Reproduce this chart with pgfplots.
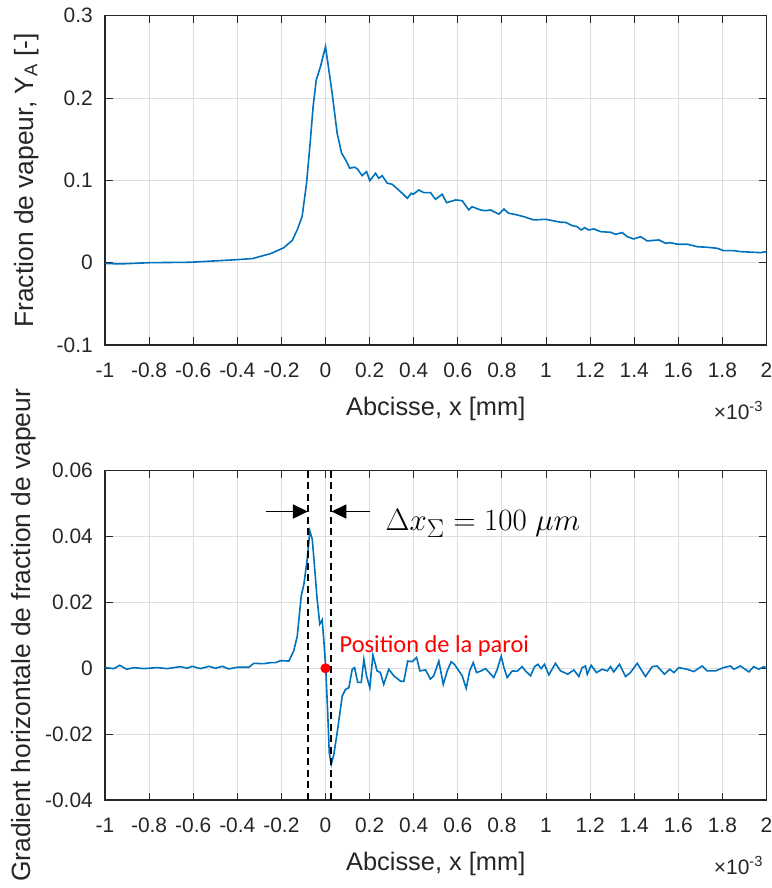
\documentclass[border=0pt]{standalone}
\usepackage{graphicx}
\usepackage{fontspec}
\setmainfont{Liberation Sans}
\newfontfamily\calibri{Carlito}
\usepackage{pgfplots}
\pgfplotsset{compat=1.18}
\usetikzlibrary{arrows.meta}
\definecolor{mblue}{rgb}{0,0.447,0.741}
\definecolor{axgray}{rgb}{0.15,0.15,0.15}
\definecolor{gridgray}{RGB}{222,222,222}

\pgfplotstableread{
x y
-1.000 -0.0010
-0.930 -0.0015
-0.794 0.0000
-0.612 0.0005
-0.399 0.0037
-0.331 0.0050
-0.249 0.0110
-0.190 0.0180
-0.151 0.0270
-0.128 0.0400
-0.106 0.0560
-0.086 0.0965
-0.071 0.1410
-0.056 0.1900
-0.042 0.2220
-0.023 0.2380
0.000 0.2625
0.010 0.2440
0.030 0.2060
0.053 0.1570
0.073 0.1330
0.091 0.1250
0.110 0.1147
0.132 0.1160
0.146 0.1135
0.166 0.1057
0.186 0.1106
0.201 0.0996
0.227 0.1086
0.242 0.1025
0.257 0.1057
0.280 0.0965
0.302 0.0953
0.340 0.0863
0.371 0.0782
0.389 0.0843
0.398 0.0831
0.423 0.0883
0.446 0.0851
0.476 0.0851
0.499 0.0770
0.529 0.0831
0.549 0.0729
0.590 0.0762
0.620 0.0753
0.650 0.0640
0.665 0.0680
0.703 0.0640
0.726 0.0632
0.748 0.0640
0.786 0.0590
0.809 0.0652
0.831 0.0600
0.869 0.0580
0.899 0.0559
0.945 0.0519
0.998 0.0527
1.066 0.0491
1.088 0.0490
1.119 0.0450
1.141 0.0437
1.160 0.0397
1.175 0.0425
1.194 0.0397
1.217 0.0410
1.247 0.0377
1.293 0.0369
1.315 0.0345
1.346 0.0365
1.368 0.0316
1.398 0.0288
1.429 0.0316
1.459 0.0264
1.512 0.0276
1.542 0.0236
1.565 0.0243
1.595 0.0224
1.640 0.0224
1.686 0.0194
1.731 0.0187
1.776 0.0175
1.806 0.0146
1.852 0.0146
1.882 0.0134
1.942 0.0126
1.973 0.0122
2.000 0.0134
}\toptable

\pgfplotstableread{
x y
-1.000 0.0002
-0.960 -0.0001
-0.933 0.0009
-0.902 -0.0003
-0.869 0.0002
-0.824 -0.0001
-0.763 0.0002
-0.718 -0.0001
-0.658 0.0005
-0.627 0.0000
-0.605 0.0006
-0.567 -0.0001
-0.529 0.0006
-0.499 0.0000
-0.468 0.0006
-0.439 -0.0002
-0.400 0.0003
-0.348 0.0003
-0.325 0.0015
-0.280 0.0014
-0.249 0.0017
-0.227 0.0017
-0.204 0.0023
-0.166 0.0022
-0.144 0.0053
-0.128 0.0098
-0.110 0.0220
-0.098 0.0255
-0.083 0.0331
-0.071 0.0417
-0.060 0.0392
-0.050 0.0311
-0.038 0.0210
-0.026 0.0134
-0.015 0.0147
-0.008 0.0088
0.001 0.0002
0.010 -0.0135
0.017 -0.0256
0.026 -0.0292
0.038 -0.0261
0.053 -0.0195
0.076 -0.0084
0.091 -0.0064
0.106 -0.0059
0.121 -0.0003
0.132 0.0002
0.146 -0.0043
0.162 -0.0043
0.174 0.0027
0.186 -0.0023
0.201 -0.0059
0.215 0.0040
0.234 -0.0008
0.249 -0.0013
0.264 -0.0049
0.287 -0.0003
0.310 -0.0023
0.340 -0.0039
0.355 -0.0040
0.373 0.0022
0.393 0.0020
0.413 0.0033
0.428 -0.0008
0.454 -0.0005
0.476 -0.0033
0.491 -0.0023
0.514 0.0022
0.534 -0.0049
0.552 -0.0008
0.570 0.0020
0.585 0.0012
0.605 -0.0008
0.620 -0.0023
0.638 -0.0061
0.654 -0.0008
0.670 0.0017
0.685 -0.0013
0.706 -0.0008
0.726 -0.0001
0.763 -0.0028
0.779 -0.0003
0.797 0.0037
0.809 0.0002
0.824 -0.0028
0.847 -0.0008
0.869 -0.0009
0.892 0.0005
0.907 -0.0008
0.930 -0.0023
0.948 0.0005
0.963 0.0012
0.978 -0.0001
0.993 0.0012
1.013 -0.0020
1.043 0.0015
1.066 -0.0008
1.099 -0.0018
1.126 -0.0005
1.149 -0.0025
1.164 0.0002
1.179 0.0007
1.187 -0.0018
1.205 0.0009
1.229 -0.0013
1.255 -0.0003
1.278 -0.0008
1.293 0.0005
1.307 -0.0011
1.333 0.0012
1.361 -0.0025
1.383 -0.0013
1.414 0.0015
1.451 -0.0025
1.482 0.0005
1.504 0.0007
1.537 -0.0018
1.561 -0.0003
1.580 -0.0013
1.602 0.0002
1.640 -0.0003
1.670 -0.0010
1.708 0.0007
1.731 -0.0008
1.769 -0.0008
1.804 0.0002
1.837 0.0007
1.852 -0.0003
1.882 0.0007
1.920 -0.0011
1.942 0.0005
1.965 -0.0003
1.988 0.0005
2.000 0.0000
}\bottable

\pgfplotsset{mystyle/.style={
  scale only axis, width=661.5bp, height=329.3bp,
  xmin=-1, xmax=2,
  xtick={-1,-0.8,-0.6,-0.4,-0.2,0,0.2,0.4,0.6,0.8,1,1.2,1.4,1.6,1.8,2},
  xticklabels={-1,-0.8,-0.6,-0.4,-0.2,0,0.2,0.4,0.6,0.8,1,1.2,1.4,1.6,1.8,2},
  scaled x ticks=false, scaled y ticks=false,
  grid=major, major grid style={gridgray, line width=0.9bp},
  tick align=inside, major tick length=7.5bp,
  every tick/.style={axgray, line width=1bp},
  axis line style={axgray, line width=1.1bp},
  tick label style={font=\fontsize{21}{21}\selectfont, text=axgray},
  xticklabel style={inner sep=0pt, anchor=north, yshift=-18bp},
  yticklabel style={inner sep=0pt, anchor=east, xshift=-12bp},
  xlabel style={font=\fontsize{25.5}{25.5}\selectfont, text=axgray, at={(axis description cs:0.5,-0.2128)}, anchor=base},
  ylabel style={font=\fontsize{26.5}{26.5}\selectfont, text=axgray},
  /pgf/number format/assume math mode=true,
  clip mode=individual,
}}

\begin{document}
\begin{tikzpicture}
\useasboundingbox (0,0) rectangle (772bp,888bp);

\begin{axis}[mystyle, at={(105bp,543bp)}, anchor=south west,
  ymin=-0.1, ymax=0.3,
  ytick={-0.1,0,0.1,0.2,0.3},
  yticklabels={-0.1,0,0.1,0.2,0.3},
  xlabel={Abcisse, x [mm]},
  ylabel={Fraction de vapeur, Y\textsubscript{A} [-]},
  ylabel style={at={(axis description cs:-0.1085,0.5)}, anchor=base},
]
\addplot[mblue, line width=1.6bp] table {\toptable};
\node[anchor=base east, font=\fontsize{21}{21}\selectfont, text=axgray] at (axis description cs:1,-0.225) {×10\textsuperscript{-3}};
\end{axis}

\begin{axis}[mystyle, at={(105bp,88bp)}, anchor=south west,
  ymin=-0.04, ymax=0.06,
  ytick={-0.04,-0.02,0,0.02,0.04,0.06},
  yticklabels={-0.04,-0.02,0,0.02,0.04,0.06},
  xlabel={Abcisse, x [mm]},
  ylabel={Gradient horizontale de fraction de vapeur},
  ylabel style={at={(axis description cs:-0.112,0.5)}, anchor=base},
]
\addplot[mblue, line width=1.6bp] table {\bottable};
\addplot[black, line width=2bp, dash pattern=on 7bp off 4.5bp] coordinates {(-0.080,-0.04) (-0.080,0.06)};
\addplot[black, line width=2bp, dash pattern=on 7bp off 4.5bp] coordinates {(0.027,-0.04) (0.027,0.06)};
\addplot[only marks, mark=*, mark size=4.8bp, red] coordinates {(0,0)};
\draw[-{Triangle[length=15bp,width=14bp]}, line width=1.8bp] (axis cs:-0.268,0.0476) -- (axis cs:-0.080,0.0476);
\draw[-{Triangle[length=15bp,width=14bp]}, line width=1.8bp] (axis cs:0.204,0.0476) -- (axis cs:0.027,0.0476);
\node[anchor=base west, font=\fontsize{24.88}{24.88}\selectfont, inner sep=0pt] at (axis cs:0.272,0.0417) {\scalebox{1.25}{$\Delta x_{\Sigma} = 100\ \mu m$}};
\node[anchor=base west, text=red, font=\calibri\fontsize{24.5}{24.5}\selectfont, inner sep=0pt] at (axis cs:0.0635,0.0049) {Position de la paroi};
\node[anchor=base east, font=\fontsize{21}{21}\selectfont, text=axgray] at (axis description cs:1,-0.225) {×10\textsuperscript{-3}};
\end{axis}
\end{tikzpicture}
\end{document}
